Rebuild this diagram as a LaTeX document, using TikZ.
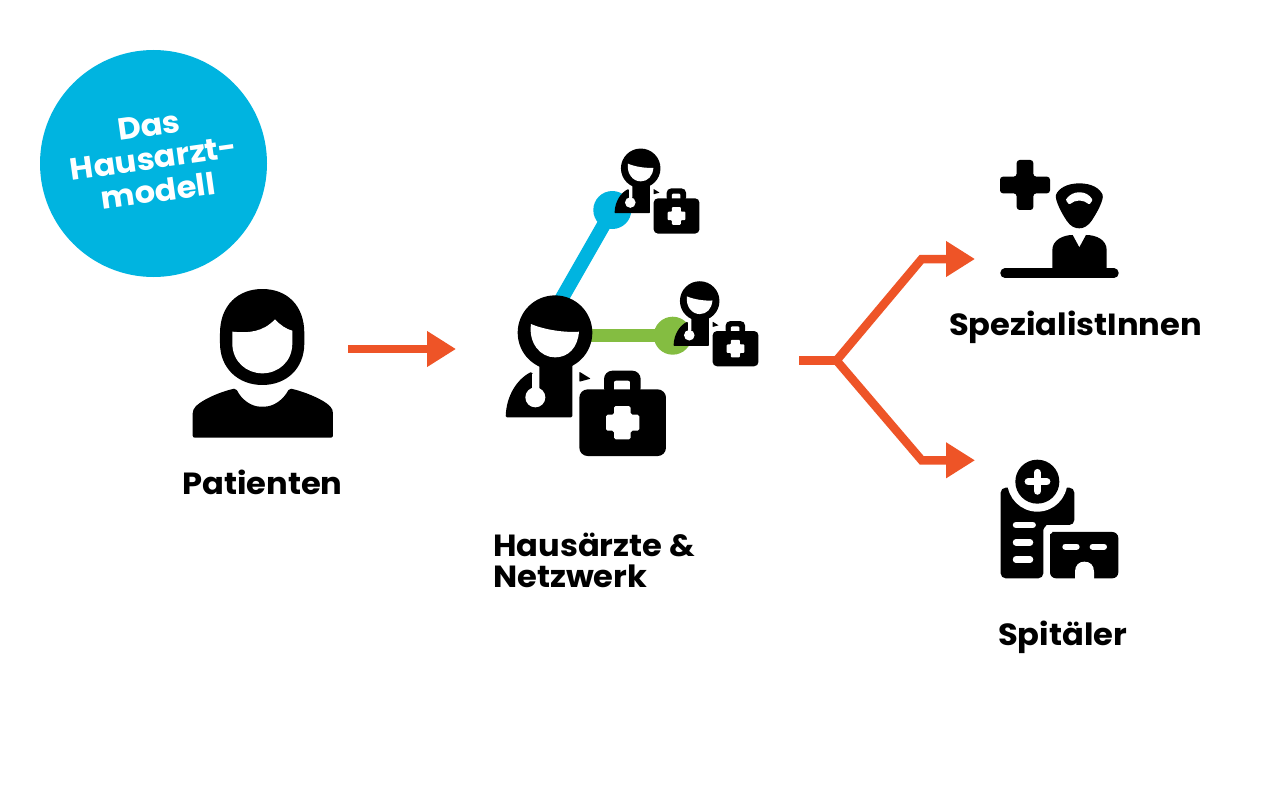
\documentclass[tikz,border=0pt]{standalone}
\usepackage{fontspec}
\setmainfont[FakeStretch=1.05]{Poppins}
\usetikzlibrary{arrows.meta}
\definecolor{hblue}{HTML}{00B4E0}
\definecolor{hgreen}{HTML}{84BD41}
\definecolor{hred}{HTML}{EE5427}
\tikzset{
  label/.style={font=\bfseries\fontsize{30.6}{31}\selectfont,text=black,inner sep=0pt,align=left},
  badge/.style={font=\bfseries\fontsize{30.6}{33}\selectfont,text=white,inner sep=0pt,align=center,rotate=8},
  flow/.style={draw=hred,line width=8.5pt,line join=miter,-{Triangle[length=29pt,width=34pt]}},
  stem/.style={draw=hred,line width=8.5pt}
}
% doctor: head centre #1,#2, units #3 px per unit; coordinates are relative to the head centre
\newcommand{\drdoctor}[3]{%
\begin{scope}[shift={(#1,#2)},x=#3pt,y=-#3pt]
  \fill[black] (0,0) circle [radius=112];
  \fill[black,rounded corners={4*#3 pt}] (-148,254) .. controls (-146,190) and (-115,140) .. (-70,117) -- (-47,172) -- (-47,60) -- (52,60) -- (52,254) -- cycle;
  \fill[white] (-59,194) circle [radius=30];
  \fill[white] (-68,125) rectangle (-48,180);
  \fill[white] (-72,-26) .. controls (-30,-8) and (30,0) .. (72,-3) .. controls (68,45) and (40,74) .. (0,74) .. controls (-45,74) and (-80,30) .. (-72,-26) -- cycle;
  \fill[black,rounded corners={2*#3 pt}] (73,117) -- (107,138) -- (73,147) -- cycle;
  \fill[black,rounded corners={25*#3 pt}] (147,114) rectangle (257,190);
  \fill[white,rounded corners={6*#3 pt}] (177,144) rectangle (225,180);
  \fill[black,rounded corners={25*#3 pt}] (73,170) rectangle (333,370);
  \fill[white,rounded corners={5*#3 pt}] (177,220) -- (227,220) -- (227,246) -- (253,246) -- (253,294) -- (227,294) -- (227,320) -- (177,320) -- (177,294) -- (153,294) -- (153,246) -- (177,246) -- cycle;
\end{scope}}
\begin{document}
\begin{tikzpicture}[x=1pt,y=-1pt]
\useasboundingbox (0,0) rectangle (1280,800);
\fill[white] (0,0) rectangle (1280,800);
% badge
\node[circle,fill=hblue,minimum size=227pt,inner sep=0pt] (badgeC) at (153.5,163.5) {};
\node[badge] (badgeT) at (153.5,158.5) {Das\\Hausarzt-\\modell};
% patient
\begin{scope}[shift={(180,280)},x=.3333pt,y=-.3333pt]
  \fill[black] (120,160) .. controls (120,75) and (175,27) .. (247,27) .. controls (320,27) and (373,75) .. (373,160) -- (373,190) .. controls (373,265) and (320,315) .. (247,315) .. controls (175,315) and (120,265) .. (120,190) -- cycle;
  \fill[white] (157,155) .. controls (210,160) and (250,155) .. (285,118) .. controls (300,135) and (320,148) .. (337,152) -- (337,190) .. controls (337,245) and (295,280) .. (247,280) .. controls (200,280) and (157,245) .. (157,190) -- cycle;
  \fill[black,rounded corners=2pt] (38,473) -- (38,395) .. controls (50,365) and (120,335) .. (168,325) .. controls (185,360) and (215,380) .. (247,380) .. controls (280,380) and (310,360) .. (328,325) .. controls (375,335) and (449,365) .. (459,395) -- (459,473) -- cycle;
\end{scope}
\node[label,anchor=base west] (patT) at (182,494) {Patienten};
% network connectors
\coordinate (hub) at (555,333);
\coordinate (hubB) at (542,333);
\node[circle,fill=hblue,minimum size=38pt,inner sep=0pt] (nB) at (612.3,210) {};
\node[circle,fill=hgreen,minimum size=38pt,inner sep=0pt] (nG) at (672.7,335.7) {};
\draw[hblue,line width=14pt] (hubB) -- (nB.center);
\draw[hgreen,line width=13pt] (hub |- nG) -- (nG.center);
% doctors
\drdoctor{555}{332.7}{.3333}
\drdoctor{640.7}{168.3}{.1765}
\drdoctor{699.7}{301}{.1765}
\node[label,anchor=base west] (haT) at (493,556) {Hausärzte \&};
\node[label,anchor=base west] (neT) at (493,587) {Netzwerk};
% arrows
\coordinate (a1) at (348,349);
\coordinate (a2) at (456,349);
\draw[flow] (a1) -- (a2);
\coordinate (f0) at (799,360.5);
\coordinate (f1) at (836.5,360.5);
\coordinate (u1) at (921.7,259);
\coordinate (u2) at (975,259);
\coordinate (d1) at (921.7,460.3);
\coordinate (d2) at (975,460.3);
\draw[stem] (f0) -- (f1);
\draw[flow] (f1) -- (u1) -- (u2);
\draw[flow] (f1) -- (d1) -- (d2);
% specialist
\begin{scope}[shift={(980,150)},x=.3333pt,y=-.3333pt]
  \fill[black,rounded corners=3pt] (110,30) -- (160,30) -- (160,80) -- (210,80) -- (210,130) -- (160,130) -- (160,180) -- (110,180) -- (110,130) -- (60,130) -- (60,80) -- (110,80) -- cycle;
  \fill[black] (298,100) .. controls (335,100) and (360,115) .. (368,135) .. controls (372,150) and (350,190) .. (335,212) .. controls (322,230) and (310,235) .. (298,235) .. controls (285,235) and (272,230) .. (260,212) .. controls (245,190) and (224,150) .. (228,135) .. controls (235,115) and (262,100) .. (298,100) -- cycle;
  \fill[white,rounded corners=1pt] (257,150) .. controls (268,133) and (285,127) .. (298,127) .. controls (312,127) and (328,133) .. (338,150) -- (328,164) .. controls (318,155) and (308,152) .. (298,152) .. controls (288,152) and (278,155) .. (268,164) -- cycle;
  \fill[black] (217,360) -- (217,300) .. controls (217,270) and (250,255) .. (278,255) -- (298,292) -- (318,255) .. controls (350,255) and (380,270) .. (380,300) -- (380,360) -- cycle;
  \draw[black,line width=9.5pt,line cap=round] (75,369.5) -- (402,369.5);
\end{scope}
\node[label,anchor=base west] (spT) at (949,335) {SpezialistInnen};
% hospital
\begin{scope}[shift={(980,450)},x=.3333pt,y=-.3333pt]
  \fill[black,rounded corners=5pt] (62,385) -- (62,113) -- (283,113) -- (283,225) -- (215,225) .. controls (200,225) and (190,235) .. (190,255) -- (190,385) -- cycle;
  \fill[white] (172,95) circle [radius=90];
  \fill[black] (172,95) circle [radius=66];
  \draw[white,line width=7.5pt,line cap=round] (145,95) -- (200,95) (172,68) -- (172,123);
  \draw[white,line width=6.5pt,line cap=round] (108,225) -- (158,225) (108,277) -- (150,277) (108,329) -- (150,329);
  \fill[black,rounded corners=6pt] (210,385) -- (210,270) .. controls (210,255) and (220,246) .. (235,246) -- (415,246) -- (415,385) -- cycle;
  \draw[white,line width=6pt,line cap=round] (256,290) -- (290,290) (338,290) -- (372,290);
  \fill[white] (285,390) -- (285,365) .. controls (285,345) and (298,335) .. (313,335) .. controls (330,335) and (342,345) .. (342,365) -- (342,390) -- cycle;
\end{scope}
\node[label,anchor=base west] (hoT) at (998,645) {Spitäler};
\end{tikzpicture}
\end{document}
